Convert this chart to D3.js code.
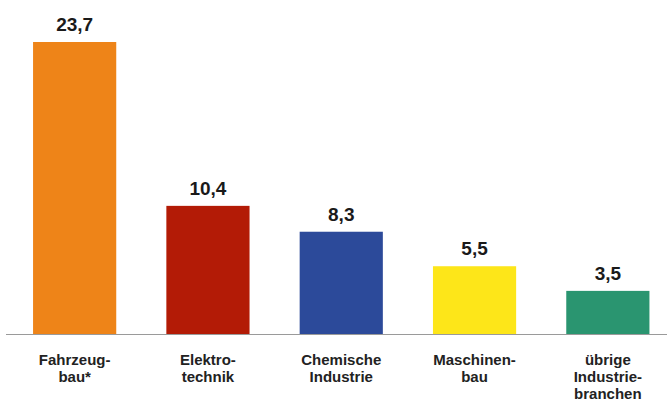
<!DOCTYPE html>
<html><head><meta charset="utf-8">
<script src="https://cdn.jsdelivr.net/npm/d3@7"></script>
<style>body{margin:0;background:#fff}svg{display:block}</style>
</head><body>
<script>
const categories = ["Fahrzeugbau", "Elektrotechnik", "Chemische Industrie", "Maschinenbau", "übrige Industriebranchen"];
const labelLines = [["Fahrzeug-", "bau*"], ["Elektro-", "technik"], ["Chemische", "Industrie"], ["Maschinen-", "bau"], ["übrige", "Industrie-", "branchen"]];
const values = [23.7, 10.4, 8.3, 5.5, 3.5];
const valueLabels = ["23,7", "10,4", "8,3", "5,5", "3,5"];
const colors = ["#EE8418", "#B31B06", "#2C4A9A", "#FDE619", "#2A9570"];

const W = 667, H = 403;
const svg = d3.select("body").append("svg").attr("width", W).attr("height", H);
const baseY = 334;
const x = d3.scaleBand().domain(categories).range([8, 674.5]).paddingInner(0.376).paddingOuter(0.188);
const y = d3.scaleLinear().domain([0, 23.7]).range([baseY, 42]);

svg.selectAll("rect.bar").data(values).enter().append("rect")
  .attr("x", (d, i) => x(categories[i]))
  .attr("width", x.bandwidth())
  .attr("y", d => y(d))
  .attr("height", d => baseY - y(d))
  .attr("fill", (d, i) => colors[i]);

svg.append("line").attr("x1", 6).attr("x2", W).attr("y1", baseY + 0.5).attr("y2", baseY + 0.5)
  .attr("stroke", "#9a9a9a").attr("stroke-width", 1.2);

svg.selectAll("text.val").data(values).enter().append("text")
  .attr("x", (d, i) => x(categories[i]) + x.bandwidth() / 2)
  .attr("y", d => y(d) - 11)
  .attr("text-anchor", "middle")
  .attr("font-family", "Liberation Sans, Arial, sans-serif")
  .attr("font-weight", "bold").attr("font-size", 19).attr("fill", "#1a1a1a")
  .text((d, i) => valueLabels[i]);

categories.forEach((c, i) => {
  const t = svg.append("text")
    .attr("x", x(c) + x.bandwidth() / 2)
    .attr("y", 365)
    .attr("text-anchor", "middle")
    .attr("font-family", "Liberation Sans, Arial, sans-serif")
    .attr("font-weight", "bold").attr("font-size", 15).attr("fill", "#222");
  labelLines[i].forEach((l, j) => {
    t.append("tspan").attr("x", x(c) + x.bandwidth() / 2).attr("y", 365 + j * 17).text(l);
  });
});
</script>
</body></html>
